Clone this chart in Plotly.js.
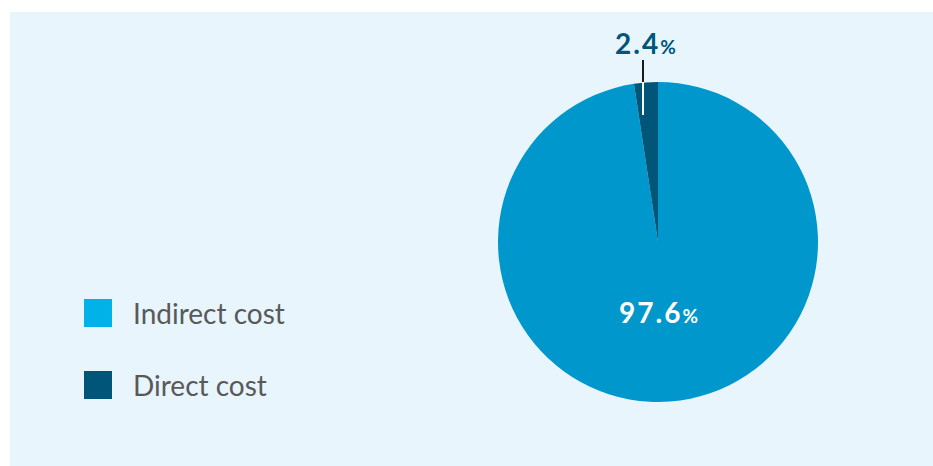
<!DOCTYPE html>
<html>
<head>
<meta charset="utf-8">
<script src="https://cdn.plot.ly/plotly-3.0.1.min.js"></script>
<style>html,body{margin:0;padding:0;background:#fff;}#chart{width:933px;height:466px;}</style>
</head>
<body>
<div id="chart"></div>
<script>
var labels = ["Indirect cost", "Direct cost"];
var values = [97.6, 2.4];
var sliceColors = ["#0097CD", "#005578"];
var legendColors = ["#00B2E8", "#005578"];

var W = 933, H = 466;
function px(x){return x / W;}
function py(y){return 1 - y / H;}

function pctLabel(v, pctSize){
  return '<span style="letter-spacing:2px"><b>' + v.toFixed(1) + '</b></span><span style="font-size:' + pctSize + 'px"><b>%</b></span>';
}

var trace = {
  type: 'pie',
  labels: labels,
  values: values,
  sort: false,
  direction: 'clockwise',
  rotation: 0,
  marker: {colors: sliceColors, line: {width: 0}},
  textinfo: 'none',
  hoverinfo: 'label+percent',
  showlegend: false,
  domain: {x: [px(498), px(818)], y: [py(402), py(82)]}
};

var shapes = [
  {type: 'rect', xref: 'paper', yref: 'paper', x0: px(10), x1: 1, y0: 0, y1: py(12),
   fillcolor: '#E8F5FC', line: {width: 0}, layer: 'below'},
  {type: 'line', xref: 'paper', yref: 'paper', x0: px(643), x1: px(643), y0: py(60), y1: py(82),
   line: {color: '#1a1a1a', width: 2}},
  {type: 'line', xref: 'paper', yref: 'paper', x0: px(643), x1: px(643), y0: py(82), y1: py(115),
   line: {color: '#ffffff', width: 2}, layer: 'above'}
];

var legendY = [313, 385];
var annotations = [];
labels.forEach(function(l, i){
  shapes.push({type: 'rect', xref: 'paper', yref: 'paper',
    x0: px(84), x1: px(112), y0: py(legendY[i] + 14), y1: py(legendY[i] - 14),
    fillcolor: legendColors[i], line: {width: 0}});
  annotations.push({xref: 'paper', yref: 'paper', x: px(131), y: py(legendY[i]),
    xanchor: 'left', yanchor: 'middle', showarrow: false, text: l,
    font: {family: 'Lato, "Open Sans", sans-serif', size: 28, color: '#595959'}});
});

annotations.push({xref: 'paper', yref: 'paper', x: px(658), y: py(312), xanchor: 'center', yanchor: 'middle',
  showarrow: false, text: pctLabel(values[0], 19),
  font: {family: 'Lato, "Open Sans", sans-serif', size: 28, color: '#ffffff'}});
annotations.push({xref: 'paper', yref: 'paper', x: px(645), y: py(43), xanchor: 'center', yanchor: 'middle',
  showarrow: false, text: pctLabel(values[1], 19),
  font: {family: 'Lato, "Open Sans", sans-serif', size: 28, color: '#005578'}});

var layout = {
  width: W, height: H,
  margin: {l: 0, r: 0, t: 0, b: 0},
  paper_bgcolor: '#ffffff',
  showlegend: false,
  shapes: shapes,
  annotations: annotations
};

Plotly.newPlot('chart', [trace], layout, {displayModeBar: false, staticPlot: true});
</script>
</body>
</html>
